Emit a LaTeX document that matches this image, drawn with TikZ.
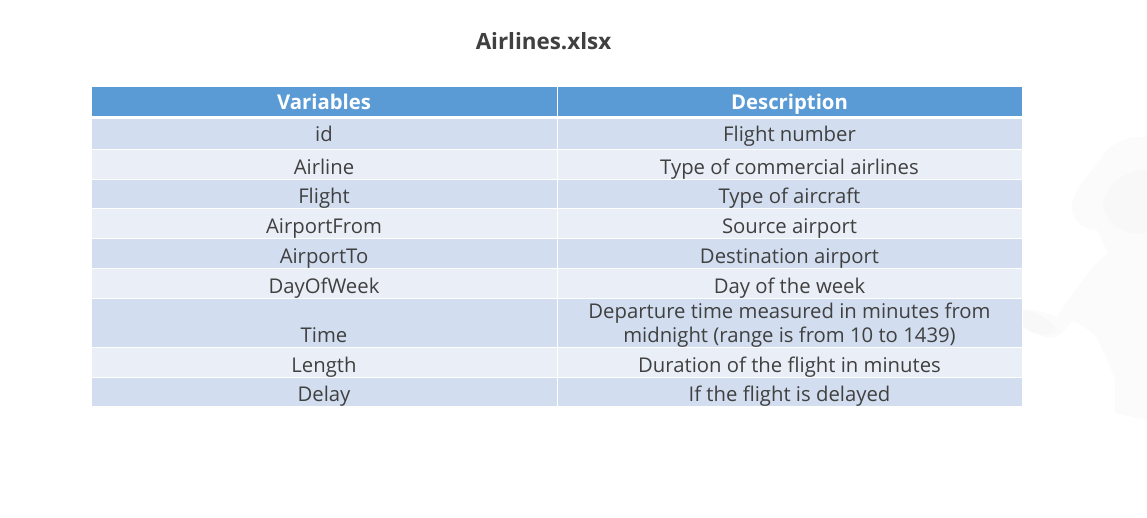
\documentclass[tikz,border=0pt]{standalone}
\usepackage{fontspec}
\setmainfont{Open Sans}
\definecolor{headblue}{HTML}{5B9BD5}
\definecolor{rowdark}{HTML}{D2DEEF}
\definecolor{rowlight}{HTML}{EAEFF7}
\definecolor{inktext}{HTML}{404040}
\definecolor{ghost}{HTML}{FBFBFB}
\definecolor{ghostb}{HTML}{F8F8F8}
\tikzset{
  celltext/.style={anchor=base,text=inktext,inner sep=0pt,font=\fontsize{20.3pt}{24pt}\selectfont},
  headtext/.style={anchor=base,text=white,inner sep=0pt,font=\fontsize{20.3pt}{24pt}\selectfont\bfseries},
  titletext/.style={anchor=base,text=inktext,inner sep=0pt,font=\fontsize{22.4pt}{24pt}\selectfont\bfseries},
}
\newcommand{\cellpair}[3]{%
  \fill[#1] (92pt,-#2pt) rectangle (556.5pt,-#3pt);
  \fill[#1] (557.5pt,-#2pt) rectangle (1022pt,-#3pt);}
\begin{document}
\begin{tikzpicture}[x=1pt,y=-1pt]
\useasboundingbox (0,0) rectangle (1147,518);
\fill[white] (0,0) rectangle (1147,518);
% faint watermark figure
\fill[ghost] (1147,137) .. controls (1125,136) and (1108,145) .. (1100,160)
  .. controls (1088,175) and (1070,195) .. (1072,208)
  .. controls (1073,222) and (1085,230) .. (1097,230)
  .. controls (1102,240) and (1105,247) .. (1108,253)
  .. controls (1095,262) and (1075,290) .. (1057,317)
  .. controls (1045,312) and (1030,308) .. (1023,310)
  -- (1023,327) .. controls (1030,333) and (1045,338) .. (1053,338)
  .. controls (1062,335) and (1068,325) .. (1073,320)
  .. controls (1080,325) and (1090,330) .. (1097,337)
  .. controls (1105,355) and (1112,370) .. (1115,380)
  -- (1115,413) -- (1147,420) -- cycle;
\fill[ghostb] (1147,170) .. controls (1125,170) and (1105,185) .. (1103,205)
  .. controls (1105,225) and (1130,238) .. (1147,232) -- cycle;
\fill[ghostb] (1023,310) .. controls (1035,312) and (1050,318) .. (1056,330)
  .. controls (1050,340) and (1030,332) .. (1023,325) -- cycle;
% table cells
\fill[headblue] (92pt,-87pt) rectangle (556.5pt,-116pt);
\fill[headblue] (557.5pt,-87pt) rectangle (1022pt,-116pt);
\cellpair{rowdark}{119}{149.5}
\cellpair{rowlight}{150.5}{179.5}
\cellpair{rowdark}{180.5}{208.5}
\cellpair{rowlight}{209.5}{238.5}
\cellpair{rowdark}{239.5}{268.5}
\cellpair{rowlight}{269.5}{297.5}
\cellpair{rowdark}{298.5}{346.5}
\cellpair{rowlight}{347.5}{376.5}
\cellpair{rowdark}{377.5}{406}
% texts
\node[titletext] (title) at (543.5,49.3) {Airlines.xlsx};
\node[headtext] (hvar) at (324,109.3) {Variables};
\node[headtext] (hdesc) at (789.5,109.3) {Description};
\node[celltext] (v1) at (324,141.3) {id};
\node[celltext] (d1) at (789.5,141.3) {Flight number};
\node[celltext] (v2) at (324,174.3) {Airline};
\node[celltext] (d2) at (789.5,174.3) {Type of commercial airlines};
\node[celltext] (v3) at (324,203.3) {Flight};
\node[celltext] (d3) at (789.5,203.3) {Type of aircraft};
\node[celltext] (v4) at (324,233.3) {AirportFrom};
\node[celltext] (d4) at (789.5,233.3) {Source airport};
\node[celltext] (v5) at (324,263.3) {AirportTo};
\node[celltext] (d5) at (789.5,263.3) {Destination airport};
\node[celltext] (v6) at (324,293.3) {DayOfWeek};
\node[celltext] (d6) at (789.5,293.3) {Day of the week};
\node[celltext] (v7) at (324,342.3) {Time};
\node[celltext] (d7a) at (789.5,318.3) {Departure time measured in minutes from};
\node[celltext] (d7b) at (789.5,342.3) {midnight (range is from 10 to 1439)};
\node[celltext] (v8) at (324,372.3) {Length};
\node[celltext] (d8) at (789.5,372.3) {Duration of the flight in minutes};
\node[celltext] (v9) at (324,401.3) {Delay};
\node[celltext] (d9) at (789.5,401.3) {If the flight is delayed};
\end{tikzpicture}
\end{document}
